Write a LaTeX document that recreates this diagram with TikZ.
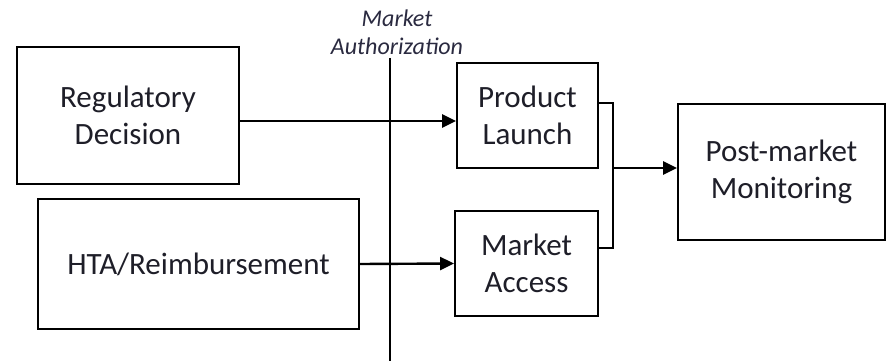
\documentclass[tikz,border=0pt]{standalone}
\usepackage{fontspec}
\setmainfont{Carlito}
\usetikzlibrary{arrows.meta,calc}
\definecolor{txt}{HTML}{1E1E28}
\definecolor{lbl}{HTML}{2A2A40}
\begin{document}
\begin{tikzpicture}[x=1pt,y=-1pt,
  box/.style={draw=black, line width=1.8pt, rectangle, align=center, text=txt,
    font=\fontsize{31}{37}\selectfont, inner sep=0pt},
  arr/.style={draw=black, line width=2.4pt, -{Triangle[length=14pt,width=13pt]}},
  link/.style={draw=black, line width=2.2pt},
  axis/.style={draw=black, line width=1.6pt}]
\useasboundingbox (0,0) rectangle (886,361);
\node[box, minimum width=222pt, minimum height=137pt] (reg) at (128,115.5) {Regulatory\\Decision};
\node[box, minimum width=321pt, minimum height=130pt] (hta) at (198.5,264) {HTA/Reimbursement};
\node[box, minimum width=141pt, minimum height=105pt] (pl) at (527.5,115.5) {Product\\Launch};
\node[box, minimum width=143pt, minimum height=105pt] (ma) at (526.5,263.5) {Market\\Access};
\node[box, minimum width=207pt, minimum height=136pt] (pm) at (781.5,172) {Post-market\\Monitoring};
\node[text=lbl, align=center, font=\fontsize{24}{28}\selectfont\itshape] (mauth) at (397,32) {Market\\Authorization};
\coordinate (vtop) at (390,58);
\coordinate (vbot) at (390,361);
\draw[axis] (vtop) -- (vbot);
\draw[arr] ([yshift=-5.5pt]reg.east) -- ([yshift=-5.5pt]pl.west);
\draw[arr] (hta.east) -- (ma.west);
\coordinate (bj) at (613,168);
\draw[link] ([yshift=12.5pt]pl.east) -| (bj) |- ([yshift=15.5pt]ma.east);
\draw[arr] (bj) -- (bj -| pm.west);
\end{tikzpicture}
\end{document}
